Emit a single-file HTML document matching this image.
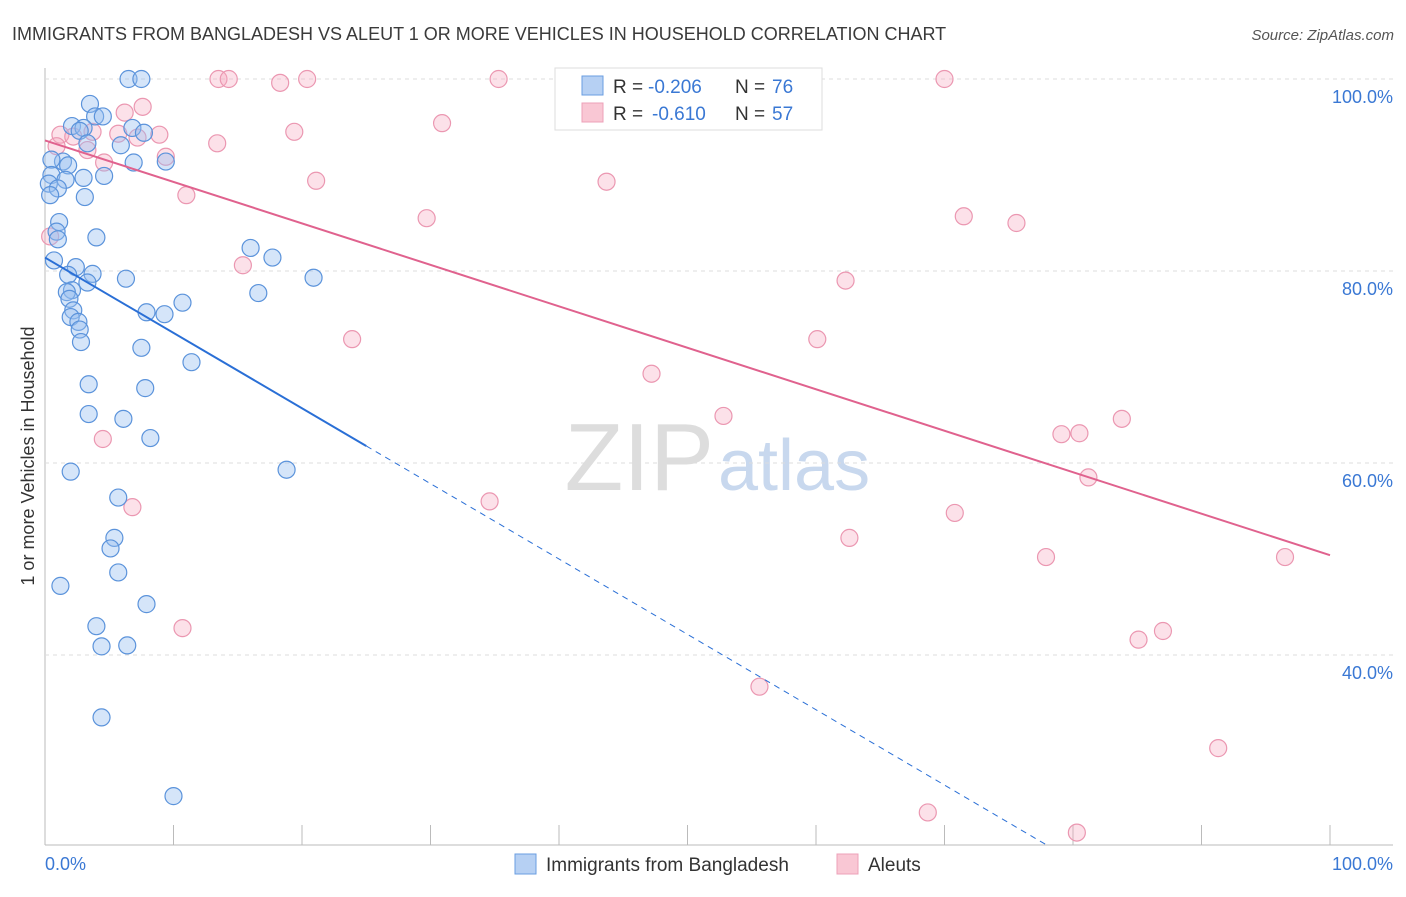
<!DOCTYPE html>
<html><head><meta charset="utf-8"><style>
body{margin:0;background:#fff;font-family:"Liberation Sans",sans-serif;}
svg text{font-family:"Liberation Sans",sans-serif;}
</style></head><body>
<svg id="c" width="1406" height="892">
<text x="12" y="40" font-size="18" fill="#3a3a3a">IMMIGRANTS FROM BANGLADESH VS ALEUT 1 OR MORE VEHICLES IN HOUSEHOLD CORRELATION CHART</text>
<text x="1394" y="40" font-size="15" fill="#555" text-anchor="end" font-style="italic">Source: ZipAtlas.com</text>
<text x="714" y="490" font-size="96" fill="#ddd" text-anchor="end" font-family="Liberation Serif">ZIP</text>
<text x="718" y="490" font-size="72" fill="#c8d8ee">atlas</text>
<g id="grid"></g>
<g id="pts"></g>
<g id="trend"></g>
<text transform="translate(34,456) rotate(-90)" font-size="18" fill="#333" text-anchor="middle">1 or more Vehicles in Household</text>
<text x="45" y="870" font-size="18" fill="#3a78d4">0.0%</text>
<text x="1393" y="870" font-size="18" fill="#3a78d4" text-anchor="end">100.0%</text>
<g>
<rect x="555" y="68" width="267" height="62" fill="#fff" stroke="#ddd"/>
<rect x="582" y="76" width="21" height="19" fill="#b6d0f3" stroke="#6a9ee0"/>
<rect x="582" y="103" width="21" height="19" fill="#f9c7d4" stroke="#eda0b8"/>
<text x="613" y="93" font-size="19" fill="#333">R =</text>
<text x="648" y="93" font-size="19" fill="#3a78d4">-0.206</text>
<text x="735" y="93" font-size="19" fill="#333">N =</text>
<text x="772" y="93" font-size="19" fill="#3a78d4">76</text>
<text x="613" y="120" font-size="19" fill="#333">R =</text>
<text x="652" y="120" font-size="19" fill="#3a78d4">-0.610</text>
<text x="735" y="120" font-size="19" fill="#333">N =</text>
<text x="772" y="120" font-size="19" fill="#3a78d4">57</text>
</g>
<g>
<rect x="515" y="854" width="21" height="20" fill="#b6d0f3" stroke="#6a9ee0"/>
<text x="546" y="871" font-size="19" fill="#333">Immigrants from Bangladesh</text>
<rect x="837" y="854" width="21" height="20" fill="#f9c7d4" stroke="#eda0b8"/>
<text x="868" y="871" font-size="19" fill="#333">Aleuts</text>
</g>
</svg>
<script>
const blueX=[6.5,7.5,3.5,3.9,4.5,2.1,3.0,2.7,6.8,7.7,3.3,5.9,1.4,0.5,1.8,6.9,9.4,0.5,3.0,4.6,1.6,0.3,1.0,0.4,3.1,1.1,0.9,1.0,4.0,16.0,17.7,0.7,2.4,3.7,1.8,6.3,3.3,20.9,2.1,1.7,16.6,1.9,10.7,2.2,7.9,9.3,2.0,2.6,2.7,2.8,7.5,11.4,3.4,7.8,3.4,6.1,8.2,2.0,18.8,5.7,5.4,5.1,5.7,1.2,7.9,4.0,4.4,6.4,4.4,10.0];
const blueY=[100,100,97.4,96.1,96.1,95.1,94.9,94.6,94.9,94.4,93.3,93.1,91.4,91.6,91.0,91.3,91.4,90.0,89.7,89.9,89.5,89.1,88.6,87.9,87.7,85.1,84.1,83.3,83.5,82.4,81.4,81.1,80.4,79.7,79.6,79.2,78.8,79.3,78.0,77.8,77.7,77.1,76.7,75.9,75.7,75.5,75.2,74.7,73.9,72.6,72.0,70.5,68.2,67.8,65.1,64.6,62.6,59.1,59.3,56.4,52.2,51.1,48.6,47.2,45.3,43.0,40.9,41.0,33.5,25.3];
const pinkX=[13.5,14.3,18.3,20.4,35.3,70.0,7.6,6.2,30.9,19.4,3.7,1.2,2.2,5.7,8.9,7.2,13.4,0.9,3.3,9.4,4.6,21.1,43.7,11.0,29.7,71.5,75.6,15.4,62.3,23.9,60.1,47.2,52.8,83.8,79.1,80.5,4.5,81.2,34.6,6.8,70.8,62.6,77.9,96.5,10.7,87.0,85.1,55.6,91.3,68.7,80.3,0.4];
const pinkY=[100,100,99.6,100,100,100,97.1,96.5,95.4,94.5,94.5,94.2,94.0,94.3,94.2,93.9,93.3,93.0,92.6,91.9,91.3,89.4,89.3,87.9,85.5,85.7,85.0,80.6,79.0,72.9,72.9,69.3,64.9,64.6,63.0,63.1,62.5,58.5,56.0,55.4,54.8,52.2,50.2,50.2,42.8,42.5,41.6,36.7,30.3,23.6,21.5,83.6];
const yTicks=[100,80,60,40];
const yTickLabels=["100.0%","80.0%","60.0%","40.0%"];
const xTicks=[0,10,20,30,40,50,60,70,80,90,100];
const blueTrend=[81.4,-0.785];
const pinkTrend=[93.6,-0.432];
const blueSolidEnd=25;
const NS='http://www.w3.org/2000/svg';
const sx=v=>45+v*12.85, sy=v=>79+(100-v)*9.6;
function mk(tag,attrs,parent){const e=document.createElementNS(NS,tag);for(const k in attrs)e.setAttribute(k,attrs[k]);parent.appendChild(e);return e;}
const grid=document.getElementById('grid');
mk('line',{x1:45,y1:68,x2:45,y2:845,stroke:'#bbb'},grid);
mk('line',{x1:45,y1:845,x2:1393,y2:845,stroke:'#bbb'},grid);
yTicks.forEach((t,i)=>{
 const l=mk('line',{x1:45,y1:sy(t),x2:1393,y2:sy(t),stroke:'#ddd','stroke-dasharray':'4,4'},grid);
 
 
 const tx=mk('text',{x:1393,y:sy(t)+24,'font-size':18,fill:'#3a78d4','text-anchor':'end'},grid);
 tx.textContent=yTickLabels[i];
 
 
});
xTicks.forEach(t=>{
 const l=mk('line',{x1:sx(t),y1:825,x2:sx(t),y2:845,stroke:'#bbb'},grid);
 
 
});
const pts=document.getElementById('pts');
pinkX.forEach((x,i)=>{
 const c=mk('circle',{cx:sx(x),cy:sy(pinkY[i]),r:8.5,fill:'rgba(245,170,192,0.35)',stroke:'#eb97b1','stroke-width':1.2},pts);
 
 
});
blueX.forEach((x,i)=>{
 const c=mk('circle',{cx:sx(x),cy:sy(blueY[i]),r:8.5,fill:'rgba(150,190,240,0.4)',stroke:'#5b93db','stroke-width':1.2},pts);
 
 
});
const tr=document.getElementById('trend');
const bf=x=>blueTrend[0]+blueTrend[1]*x, pf=x=>pinkTrend[0]+pinkTrend[1]*x;
const b1=mk('line',{x1:sx(0),y1:sy(bf(0)),x2:sx(blueSolidEnd),y2:sy(bf(blueSolidEnd)),stroke:'#2a6fd6','stroke-width':2},tr);


const xEnd=(20.2-blueTrend[0])/blueTrend[1];
const b2=mk('line',{x1:sx(blueSolidEnd),y1:sy(bf(blueSolidEnd)),x2:sx(xEnd),y2:sy(bf(xEnd)),stroke:'#2a6fd6','stroke-width':1,'stroke-dasharray':'6,5'},tr);


const p1=mk('line',{x1:sx(0),y1:sy(pf(0)),x2:sx(100),y2:sy(pf(100)),stroke:'#e0628e','stroke-width':2},tr);


</script>
</body></html>
